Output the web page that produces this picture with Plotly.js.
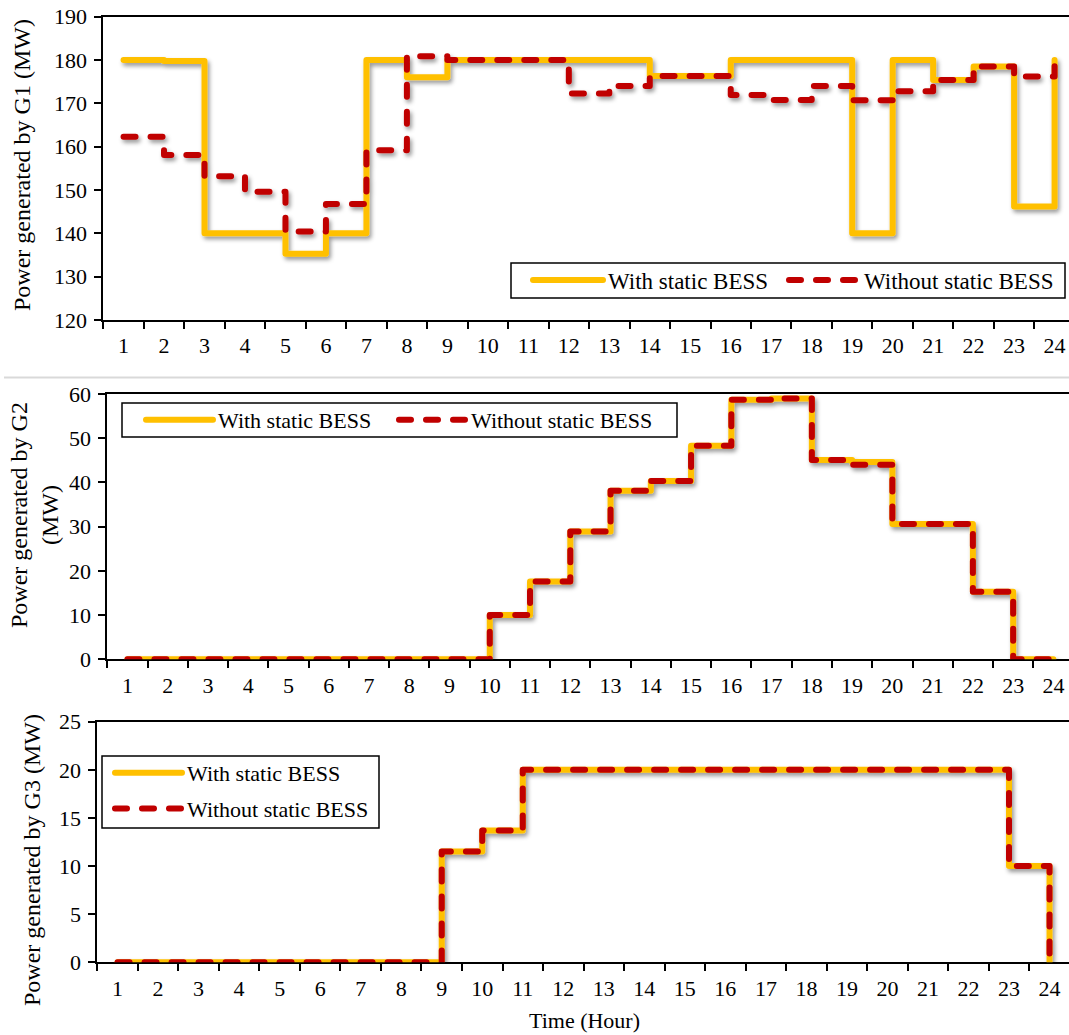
<!DOCTYPE html>
<html><head><meta charset="utf-8">
<script src="https://cdn.plot.ly/plotly-3.0.1.min.js"></script>
<style>
html,body{margin:0;padding:0;background:#fff;}
#chart{width:1069px;height:1035px;}
#chart .js-line{stroke-linecap:round;stroke-linejoin:round;}
</style>
</head><body><div id="chart"></div>
<script>
const hours = ['1','2','3','4','5','6','7','8','9','10','11','12','13','14','15','16','17','18','19','20','21','22','23','24'];

const g1With    = [180, 179.8, 140, 140, 135.3, 140, 180, 176, 180, 180, 180, 180, 180, 176.3, 176.3, 180, 180, 180, 140, 180, 175.4, 178.5, 146.2, 180];
const g1Without = [162.3, 158.1, 153.2, 149.6, 140.4, 146.8, 159.2, 180.9, 180, 180, 180, 172.3, 174, 176.3, 176.3, 171.9, 170.8, 174, 170.7, 172.8, 175.4, 178.5, 176.2, 180.8];

const g2With    = [0, 0, 0, 0, 0, 0, 0, 0, 0, 10.0, 17.6, 28.9, 38.1, 40.3, 48.3, 58.7, 59.0, 45.1, 44.6, 30.6, 30.6, 15.3, 0, 0];
const g2Without = [0, 0, 0, 0, 0, 0, 0, 0, 0, 10.0, 17.6, 28.9, 38.1, 40.3, 48.3, 58.7, 59.0, 45.1, 44.0, 30.6, 30.6, 15.3, 0, 0];

const g3With    = [0, 0, 0, 0, 0, 0, 0, 0, 11.5, 13.7, 20, 20, 20, 20, 20, 20, 20, 20, 20, 20, 20, 20, 10, 0];
const g3Without = [0, 0, 0, 0, 0, 0, 0, 0, 11.5, 13.7, 20, 20, 20, 20, 20, 20, 20, 20, 20, 20, 20, 20, 10, 0];

const g1Ticks = [120, 130, 140, 150, 160, 170, 180, 190];
const g2Ticks = [0, 10, 20, 30, 40, 50, 60];
const g3Ticks = [0, 5, 10, 15, 20, 25];

const seriesNames = ['With static BESS', 'Without static BESS'];
const yTitles = ['Power generated by G1 (MW)', 'Power generated by G2<br>(MW)', 'Power generated by G3 (MW)'];
const xTitle = 'Time (Hour)';

const FONT = 'Liberation Serif, Times New Roman, serif';
const YEL = '#FFC000', RED = '#C00000';

function tr(y, i, dashed, xa, ya, leg) {
  return {
    type: 'scatter', mode: 'lines', x: hours, y: y,
    name: seriesNames[i], xaxis: xa, yaxis: ya, legend: leg, showlegend: true,
    legendgroup: xa + '_' + i,
    cliponaxis: false, hoverinfo: 'skip',
    line: dashed ? {color: RED, width: 6, shape: 'hv', dash: '12px,15px'} : {color: YEL, width: 6, shape: 'hv'}
  };
}

const data = [
  tr(g1With, 0, false, 'x', 'y', 'legend'),
  tr(g1Without, 1, true, 'x', 'y', 'legend4'),
  tr(g2With, 0, false, 'x2', 'y2', 'legend2'),
  tr(g2Without, 1, true, 'x2', 'y2', 'legend5'),
  tr(g3With, 0, false, 'x3', 'y3', 'legend3'),
  tr(g3Without, 1, true, 'x3', 'y3', 'legend3')
];

const W = 1069, H = 1035;
function xax(left, step, anchor, layer) {
  return {
    type: 'category', categoryorder: 'array', categoryarray: hours,
    domain: [left / W, 1], range: [-0.5, -0.5 + (W - left) / step],
    anchor: anchor, tickson: 'boundaries', ticks: 'outside', ticklen: 7, tickwidth: 2, tickcolor: '#000',
    showline: true, linewidth: 2, linecolor: '#000', mirror: true, showgrid: false, zeroline: false,
    tickfont: {family: FONT, size: 22, color: '#000'}, ticklabelstandoff: 5, layer: layer, fixedrange: true
  };
}
function yax(top, bottom, ticks, anchor, mirror) {
  return {
    domain: [1 - bottom / H, 1 - top / H], range: [ticks[0], ticks[ticks.length - 1]],
    tickmode: 'array', tickvals: ticks, ticktext: ticks.map(String),
    anchor: anchor, ticks: 'outside', ticklen: 7, tickwidth: 2, tickcolor: '#000',
    showline: true, linewidth: 2, linecolor: '#000', mirror: mirror, showgrid: false, zeroline: false,
    tickfont: {family: FONT, size: 22, color: '#000'}, ticklabelstandoff: 3, fixedrange: true
  };
}
function leg(xpx, ypx, orient, gap, fs, iw) {
  return {
    x: xpx / W, y: 1 - ypx / H, xanchor: 'left', yanchor: 'middle', orientation: orient,
    bgcolor: 'rgba(0,0,0,0)', borderwidth: 0,
    font: {family: FONT, size: fs, color: '#000'}, itemwidth: iw, tracegroupgap: gap,
    itemclick: false, itemdoubleclick: false
  };
}
function box(x0, y0, x1, y1) {
  return {type: 'rect', xref: 'paper', yref: 'paper', x0: x0 / W, x1: x1 / W, y0: 1 - y1 / H, y1: 1 - y0 / H,
          line: {color: '#000', width: 1.5}, fillcolor: '#fff', layer: 'above'};
}

const layout = {
  width: W, height: H, margin: {l: 0, r: 0, t: 0, b: 0},
  paper_bgcolor: '#fff', plot_bgcolor: '#fff',
  font: {family: FONT, color: '#000'},
  xaxis: xax(103.3, 40.48, 'y', 'above traces'),
  yaxis: yax(16.7, 320, g1Ticks, 'x', false),
  xaxis2: xax(107.3, 40.26, 'y2', 'below traces'),
  yaxis2: yax(394, 659.3, g2Ticks, 'x2', false),
  xaxis3: xax(97.3, 40.52, 'y3', 'below traces'),
  yaxis3: yax(721.7, 962.3, g3Ticks, 'x3', true),
  legend: leg(528, 280, 'h', 0, 23, 70),
  legend4: leg(784, 280, 'h', 0, 23, 70),
  legend2: leg(141, 420, 'h', 0, 22, 67),
  legend5: leg(394, 420, 'h', 0, 22, 67),
  legend3: leg(110, 791, 'v', 4, 22, 67),
  showlegend: true,
  shapes: [
    {type: 'line', xref: 'paper', yref: 'paper', x0: 4 / W, x1: 1, y0: 1 - 377.5 / H, y1: 1 - 377.5 / H,
     line: {color: '#d9d9d9', width: 2}},
    box(511, 263, 1065, 298),
    box(122, 403, 677, 437),
    box(102, 756, 379, 828)
  ],
  annotations: [
    {text: yTitles[0], xref: 'paper', yref: 'paper', x: 22 / W, y: 1 - 165 / H, showarrow: false, textangle: -90,
     xanchor: 'center', yanchor: 'middle', font: {family: FONT, size: 24, color: '#000'}},
    {text: yTitles[1], xref: 'paper', yref: 'paper', x: 34 / W, y: 1 - 515 / H, showarrow: false, textangle: -90,
     xanchor: 'center', yanchor: 'middle', font: {family: FONT, size: 24, color: '#000'}},
    {text: yTitles[2], xref: 'paper', yref: 'paper', x: 32 / W, y: 1 - 860 / H, showarrow: false, textangle: -90,
     xanchor: 'center', yanchor: 'middle', font: {family: FONT, size: 24, color: '#000'}},
    {text: xTitle, xref: 'paper', yref: 'paper', x: 584 / W, y: 1 - 1020 / H, showarrow: false,
     xanchor: 'center', yanchor: 'middle', font: {family: FONT, size: 22, color: '#000'}}
  ]
};

Plotly.newPlot('chart', data, layout, {staticPlot: true, displayModeBar: false}).then(function (gd) {
  const svg = gd.querySelector('.main-svg');
  const ns = 'http://www.w3.org/2000/svg';
  let defs = svg.querySelector('defs');
  if (!defs) { defs = document.createElementNS(ns, 'defs'); svg.insertBefore(defs, svg.firstChild); }
  const f = document.createElementNS(ns, 'filter');
  f.setAttribute('id', 'lineShadow');
  f.setAttribute('filterUnits', 'userSpaceOnUse');
  f.setAttribute('x', '-300'); f.setAttribute('y', '-300');
  f.setAttribute('width', '2000'); f.setAttribute('height', '2000');
  const ds = document.createElementNS(ns, 'feDropShadow');
  ds.setAttribute('dx', '2'); ds.setAttribute('dy', '3'); ds.setAttribute('stdDeviation', '2');
  ds.setAttribute('flood-color', '#000'); ds.setAttribute('flood-opacity', '0.4');
  f.appendChild(ds); defs.appendChild(f);
  gd.querySelectorAll('.scatterlayer').forEach(function (el) { el.setAttribute('filter', 'url(#lineShadow)'); });
});
</script>
</body></html>
